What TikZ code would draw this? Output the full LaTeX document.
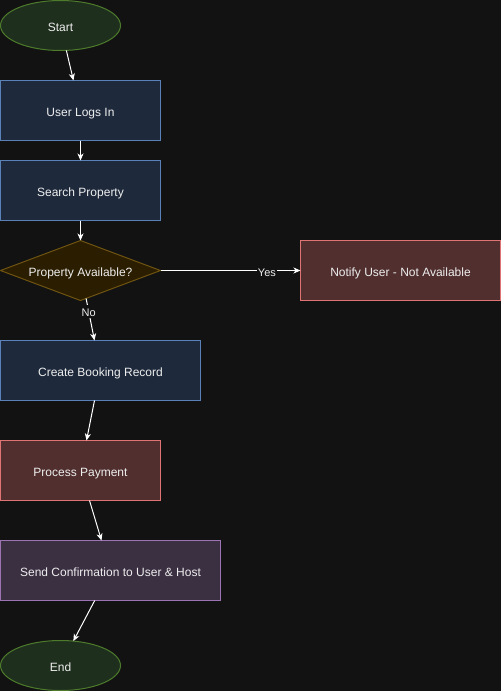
\documentclass[tikz,border=0pt]{standalone}
\usepackage{fontspec}
\setmainfont{Liberation Sans}
\usepackage{xcolor}
\usetikzlibrary{positioning, arrows.meta, shapes.geometric}

\definecolor{bgdark}{RGB}{18,18,18}
\definecolor{termfill}{RGB}{31,47,30}
\definecolor{termline}{RGB}{77,122,43}
\definecolor{procfill}{RGB}{30,42,60}
\definecolor{procline}{RGB}{91,130,184}
\definecolor{decfill}{RGB}{43,30,0}
\definecolor{decline}{RGB}{110,84,16}
\definecolor{warnfill}{RGB}{81,47,47}
\definecolor{warnline}{RGB}{224,115,115}
\definecolor{notefill}{RGB}{59,47,66}
\definecolor{noteline}{RGB}{156,116,179}
\definecolor{textlight}{RGB}{238,238,238}

\begin{document}
\begin{tikzpicture}[
    x=1pt, y=-1pt,
    every node/.style={
        align=center,
        text=textlight,
        font=\fontsize{12}{14}\selectfont,
        line width=1pt,
        inner sep=0pt,
        outer sep=0pt
    },
    term/.style={draw=termline, fill=termfill, ellipse,
        text height=12pt, text depth=0pt,
        minimum width=120pt, minimum height=50pt},
    proc/.style={draw=procline, fill=procfill, rectangle,
        text height=12pt, text depth=0pt,
        minimum width=160pt, minimum height=60pt},
    warn/.style={proc, draw=warnline, fill=warnfill},
    note/.style={proc, draw=noteline, fill=notefill},
    decision/.style={draw=decline, fill=decfill, diamond, aspect=2.667,
        text height=12pt, text depth=0pt,
        minimum width=160pt, minimum height=60pt},
    arrow/.style={-{Stealth[length=7pt,width=6pt,inset=2pt]}, line width=1pt, draw=white},
    lbl/.style={font=\fontsize{11}{13}\selectfont, fill=bgdark, inner sep=1pt,
        text height=11pt, text depth=0pt}
]

%  Background and bounds
\fill[bgdark] (0,0) rectangle (501,691);
\useasboundingbox (0,0) rectangle (501,691);

%  Main column
\node[term] (start) at (60.5,25.5) {Start};
\node[proc, anchor=north west] (login) at (0.5,80.5) {User Logs In};
\node[proc, below=20pt of login.south west, anchor=north west] (search) {Search Property};
\node[decision] (avail) at (80.5,270.5) {Property Available?};
\node[warn, minimum width=200pt] (notify) at (400.5,270.5) {Notify User - Not Available};
\node[proc, minimum width=200pt, anchor=north west] (booking) at (0.5,340.5) {Create Booking Record};
\node[warn, below=40pt of booking.south west, anchor=north west] (payment) {Process Payment};
\node[note, minimum width=220pt, below=40pt of payment.south west, anchor=north west] (confirm) {Send Confirmation to User \& Host};
\node[term] (end) at (60.5,665.5) {End};

%  Arrows
\draw[arrow] (start) -- (login);
\draw[arrow] (login) -- (search);
\draw[arrow] (search) -- (avail);
\draw[arrow] (avail) -- node[lbl, pos=0.76]{Yes} (notify);
\draw[arrow] (avail) -- node[lbl, pos=0.3]{No} (booking);
\draw[arrow] (booking) -- (payment);
\draw[arrow] (payment) -- (confirm);
\draw[arrow] (confirm) -- (end);

\end{tikzpicture}
\end{document}
